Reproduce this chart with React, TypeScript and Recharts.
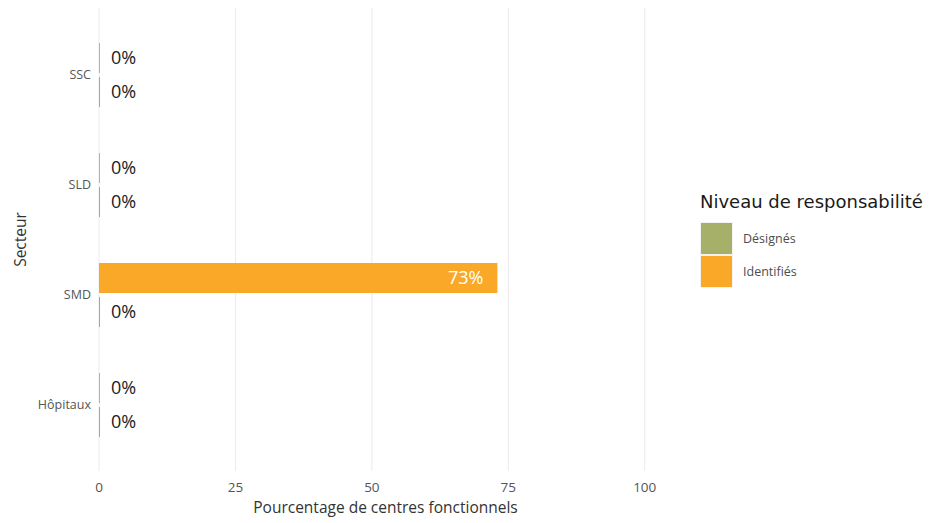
import React from "react";
import { BarChart, Bar, XAxis, YAxis, CartesianGrid, LabelList, Legend } from "recharts";

const CATEGORIES = ["SSC", "SLD", "SMD", "Hôpitaux"];
const DESIGNES = [0, 0, 0, 0];
const IDENTIFIES = [0, 0, 73, 0];
const X_TICKS = [0, 25, 50, 75, 100];
const X_MAX = 105;

const SERIES = [
  { key: "designes", name: "Désignés", color: "#a6b068" },
  { key: "identifies", name: "Identifiés", color: "#f9a828" },
];

const data = CATEGORIES.map((name, i) => ({
  name,
  designes: DESIGNES[i],
  identifies: IDENTIFIES[i],
}));

const FONT = "'Open Sans', sans-serif";

// zero-length bars still show as a thin line at the axis
const ThinBar = (props: any) => {
  const { x, y, width, height, fill } = props;
  return <rect x={x} y={y} width={Math.max(width || 0, 1)} height={height} fill={fill} />;
};

const renderPct = (props: any) => {
  const { x, y, width, height, value } = props;
  const inside = value > 10;
  return (
    <text
      x={inside ? x + width - 14 : x + 12}
      y={y + height / 2}
      dy="0.36em"
      textAnchor={inside ? "end" : "start"}
      fill={inside ? "#ffffff" : "#1a1a1a"}
      fontSize={18}
      fontFamily={FONT}
    >
      {`${value}%`}
    </text>
  );
};

// grid only at the tick values, not at the padded edge of the domain
const gridX = ({ xAxis, offset }: any) => {
  if (xAxis && typeof xAxis.scale === "function") {
    return X_TICKS.map((t) => xAxis.scale(t));
  }
  return X_TICKS.map((t) => offset.left + (t / X_MAX) * offset.width);
};

const LegendBox = () => (
  <div style={{ fontFamily: FONT }}>
    <div
      style={{
        fontFamily: "'DejaVu Sans', sans-serif",
        fontSize: 18,
        color: "#1a1a1a",
        lineHeight: "22px",
        marginBottom: 9,
        whiteSpace: "nowrap",
      }}
    >
      Niveau de responsabilité
    </div>
    {SERIES.map((s) => (
      <div key={s.key} style={{ display: "flex", alignItems: "center", height: 33 }}>
        <span
          style={{
            display: "inline-block",
            width: 31,
            height: 31,
            background: s.color,
            border: "1px solid #f2f2f2",
          }}
        />
        <span style={{ marginLeft: 10, fontSize: 12.5, color: "#4d4d4d" }}>{s.name}</span>
      </div>
    ))}
  </div>
);

export default function App() {
  return (
    <div style={{ position: "absolute", left: 0, top: 0, background: "#fff" }}>
      <BarChart
        width={944}
        height={523}
        data={data}
        layout="vertical"
        margin={{ top: 8, right: 272, bottom: 0, left: 0 }}
        barSize={30}
        barGap={4}
      >
        <CartesianGrid horizontal={false} stroke="#ebebeb" verticalCoordinatesGenerator={gridX} />
        <XAxis
          type="number"
          domain={[0, X_MAX]}
          ticks={X_TICKS}
          height={52}
          axisLine={false}
          tickLine={false}
          tickMargin={5}
          tick={{ fontSize: 13.5, fill: "#555", fontFamily: FONT }}
          label={{
            value: "Pourcentage de centres fonctionnels",
            position: "insideBottom",
            offset: 10,
            style: { fontSize: 15.5, fill: "#333", fontFamily: FONT },
          }}
        />
        <YAxis
          type="category"
          dataKey="name"
          width={99}
          axisLine={false}
          tickLine={false}
          padding={{ top: 12, bottom: 11 }}
          tick={{ fontSize: 12.5, fill: "#555", fontFamily: FONT }}
          label={{
            value: "Secteur",
            angle: -90,
            position: "insideLeft",
            offset: 20,
            style: { fontSize: 15.5, fill: "#333", fontFamily: FONT, textAnchor: "middle" },
          }}
        />
        <Legend
          layout="vertical"
          align="center"
          verticalAlign="middle"
          wrapperStyle={{ left: 700, top: 191, width: 240 }}
          content={LegendBox}
        />
        <Bar
          dataKey="identifies"
          name="Identifiés"
          fill={SERIES[1].color}
          shape={ThinBar}
          isAnimationActive={false}
        >
          <LabelList dataKey="identifies" content={renderPct} />
        </Bar>
        <Bar
          dataKey="designes"
          name="Désignés"
          fill={SERIES[0].color}
          shape={ThinBar}
          isAnimationActive={false}
        >
          <LabelList dataKey="designes" content={renderPct} />
        </Bar>
      </BarChart>
    </div>
  );
}
